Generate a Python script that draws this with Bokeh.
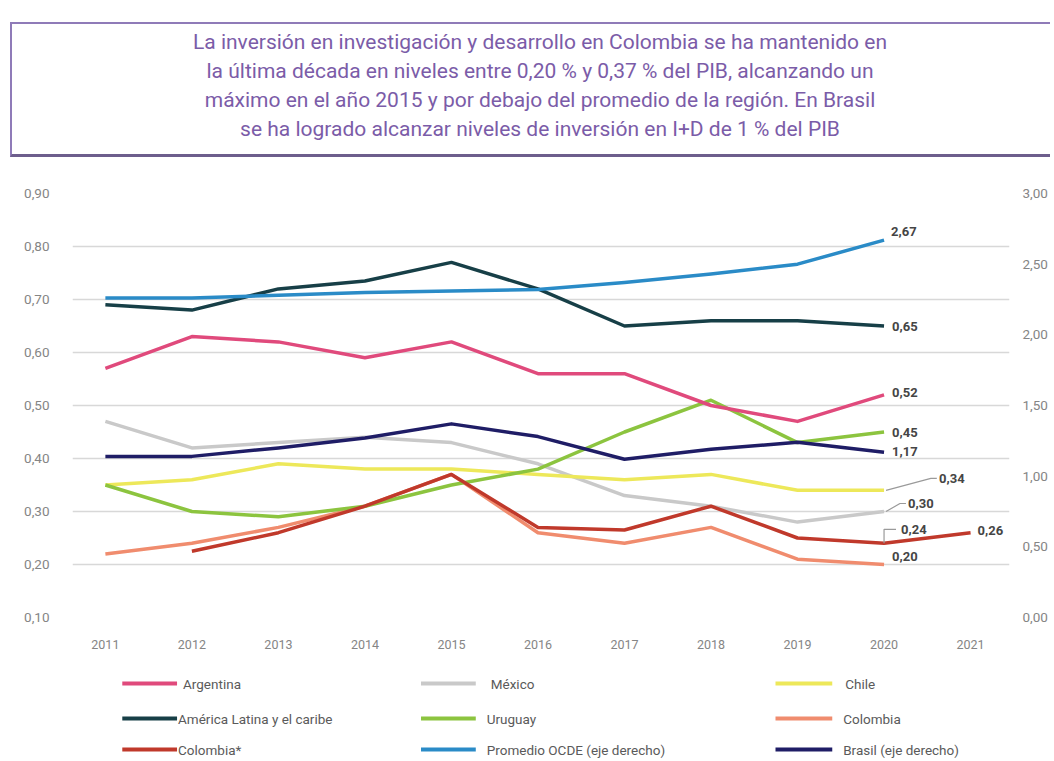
import math
from bokeh.plotting import figure
from bokeh.models import Range1d, LinearAxis, FixedTicker, CustomJSTickFormatter, Div
from bokeh.layouts import column
from bokeh.embed import file_html
from bokeh.resources import INLINE
from bokeh.core.properties import value

nan = float("nan")

# ---------------- data ----------------
years = [2011, 2012, 2013, 2014, 2015, 2016, 2017, 2018, 2019, 2020, 2021]
argentina = [0.57, 0.63, 0.62, 0.59, 0.62, 0.56, 0.56, 0.50, 0.47, 0.52, nan]
mexico = [0.47, 0.42, 0.43, 0.44, 0.43, 0.39, 0.33, 0.31, 0.28, 0.30, nan]
chile = [0.35, 0.36, 0.39, 0.38, 0.38, 0.37, 0.36, 0.37, 0.34, 0.34, nan]
america_latina = [0.69, 0.68, 0.72, 0.735, 0.77, 0.72, 0.65, 0.66, 0.66, 0.65, nan]
uruguay = [0.35, 0.30, 0.29, 0.31, 0.35, 0.38, 0.45, 0.51, 0.43, 0.45, nan]
colombia = [0.22, 0.24, 0.27, 0.31, 0.37, 0.26, 0.24, 0.27, 0.21, 0.20, nan]
colombia_star = [nan, 0.225, 0.26, 0.31, 0.37, 0.27, 0.265, 0.31, 0.25, 0.24, 0.26]
ocde = [2.26, 2.26, 2.28, 2.30, 2.31, 2.32, 2.37, 2.43, 2.50, 2.67, nan]      # eje derecho
brasil = [1.14, 1.14, 1.20, 1.27, 1.37, 1.28, 1.12, 1.19, 1.24, 1.17, nan]   # eje derecho

left_ticks = [0.10, 0.20, 0.30, 0.40, 0.50, 0.60, 0.70, 0.80, 0.90]
right_ticks = [0.0, 0.5, 1.0, 1.5, 2.0, 2.5, 3.0]

title_lines = [
    "La inversión en investigación y desarrollo en Colombia se ha mantenido en",
    "la última década en niveles entre 0,20 % y 0,37 % del PIB, alcanzando un",
    "máximo en el año 2015 y por debajo del promedio de la región. En Brasil",
    "se ha logrado alcanzar niveles de inversión en I+D de 1 % del PIB",
]

names = ["Argentina", "México", "Chile",
         "América Latina y el caribe", "Uruguay", "Colombia",
         "Colombia*", "Promedio OCDE (eje derecho)", "Brasil (eje derecho)"]
series = [argentina, mexico, chile, america_latina, uruguay, colombia, colombia_star, ocde, brasil]
colors = ["#e04a7c", "#c9c9c9", "#ede85a", "#173f47", "#8cc43f", "#f08c6e", "#c0392b", "#2a8bc7", "#1f1d66"]
right_axis = [False, False, False, False, False, False, False, True, True]

# ---------------- style ----------------
W = 1050
FONT = "Roboto"
AX_COLOR = "#858585"
LBL_COLOR = "#454545"

# ---------------- title box (HTML text) ----------------
TH = 165
title_html = (
    '<div style="margin:0; margin-left:10px; margin-top:22px; width:1040px; height:135px; '
    'box-sizing:border-box; border:2px solid #8f7bb8; border-bottom:3px solid #6d5e8c; '
    'border-right:none; display:flex; align-items:center; justify-content:center; '
    'padding-left:18px; padding-bottom:6px; text-align:center; font-family:Roboto; '
    'font-size:21px; line-height:29px; color:#7b5ca8;">'
    + "<br>".join(title_lines) + "</div>"
)
t = Div(text=title_html, width=W, height=TH, margin=0)

# ---------------- chart ----------------
PH = 490
BL, BR, BT, BB = 72, 37, 28, 38
x0, x1 = 2010.62, 2021.45
p = figure(width=W, height=PH, x_range=Range1d(x0, x1), y_range=Range1d(0.1, 0.9),
           output_backend="svg", toolbar_location=None, margin=0,
           min_border_left=BL, min_border_right=BR, min_border_top=BT, min_border_bottom=BB)
p.extra_y_ranges = {"right": Range1d(0.0, 3.0)}
p.add_layout(LinearAxis(y_range_name="right"), "right")
p.outline_line_color = None
p.xgrid.visible = False
p.ygrid.ticker = FixedTicker(ticks=left_ticks)
p.ygrid.grid_line_color = "#d8d8d8"
p.ygrid.grid_line_width = 1.5

fmt = CustomJSTickFormatter(code="return tick.toFixed(2).replace('.', ',')")
for ax in p.yaxis:
    ax.axis_line_color = None
    ax.major_tick_line_color = None
    ax.minor_tick_line_color = None
    ax.major_label_text_font = FONT
    ax.major_label_text_font_size = "13.5px"
    ax.major_label_text_color = AX_COLOR
    ax.formatter = fmt
p.yaxis[0].ticker = FixedTicker(ticks=left_ticks)
p.yaxis[0].major_label_standoff = 17
p.yaxis[1].ticker = FixedTicker(ticks=right_ticks)
p.yaxis[1].major_label_standoff = 7

xa = p.xaxis[0]
xa.ticker = FixedTicker(ticks=years)
xa.major_label_overrides = {y: str(y) for y in years}
xa.axis_line_color = None
xa.major_tick_line_color = None
xa.minor_tick_line_color = None
xa.major_label_text_font = FONT
xa.major_label_text_font_size = "12.5px"
xa.major_label_text_color = AX_COLOR
xa.major_label_standoff = 16

draw_order = [1, 2, 5, 4, 6, 0, 8, 3, 7]
for i in draw_order:
    kw = {"y_range_name": "right"} if right_axis[i] else {}
    p.line(years, series[i], line_color=colors[i], line_width=3.5, line_join="round", **kw)

# pixel -> data helpers for annotation offsets
frame_w = W - BL - BR
frame_h = PH - BT - BB
px_x = (x1 - x0) / frame_w
px_y = 0.8 / frame_h


def last(vals):
    idx = max(k for k, v in enumerate(vals) if not math.isnan(v))
    return years[idx], vals[idx]


def lab(v):
    return f"{v:.2f}".replace(".", ",")


# value labels: (series index, dx px, dy px (up +), leader?)
placements = [
    (7, 7, 9, None),
    (3, 8, 0, None),
    (0, 8, 2, None),
    (4, 8, 0, None),
    (8, 8, 1, None),
    (2, 55, 12, "diag"),
    (1, 24, 8, "diag"),
    (5, 8, 8, None),
]
for i, dx, dy, leader in placements:
    xv, yv = last(series[i])
    kw = {"y_range_name": "right"} if right_axis[i] else {}
    p.text(x=[xv], y=[yv], text=[lab(yv)], x_offset=dx, y_offset=-dy,
           text_baseline="middle", text_align="left", text_font=value(FONT),
           text_font_size="13px", text_font_style="bold", text_color=LBL_COLOR, **kw)
    if leader == "diag":
        xs = [xv + 2 * px_x, xv + (dx - 8) * px_x, xv + (dx - 2) * px_x]
        ys = [yv, yv + dy * px_y, yv + dy * px_y]
        p.line(xs, ys, line_color="#9a9a9a", line_width=1.2)

# Colombia* labels (2020 with bracket leader, 2021 at end)
yrs_c = [y for y, v in zip(years, colombia_star) if not math.isnan(v)]
vals_c = [v for v in colombia_star if not math.isnan(v)]
x20, y20 = yrs_c[-2], vals_c[-2]
p.line([x20, x20, x20 + 12 * px_x], [y20, y20 + 14 * px_y, y20 + 14 * px_y],
       line_color="#9a9a9a", line_width=1.2)
p.text(x=[x20], y=[y20], text=[lab(y20)], x_offset=17, y_offset=-14,
       text_baseline="middle", text_font=value(FONT), text_font_size="13px",
       text_font_style="bold", text_color=LBL_COLOR)
x21, y21 = yrs_c[-1], vals_c[-1]
p.text(x=[x21], y=[y21], text=[lab(y21)], x_offset=7, y_offset=-2,
       text_baseline="middle", text_font=value(FONT), text_font_size="13px",
       text_font_style="bold", text_color=LBL_COLOR)

# ---------------- legend ----------------
LH = 103
lg = figure(width=W, height=LH, x_range=Range1d(BL, W - BR), y_range=Range1d(LH, 0),
            x_axis_type=None, y_axis_type=None, output_backend="svg",
            toolbar_location=None, margin=0, min_border_left=BL, min_border_right=BR,
            min_border_top=0, min_border_bottom=0)
lg.grid.visible = False
lg.outline_line_color = None
col_line = [(122, 177), (422, 477), (778, 835)]
col_text = [[183, 178, 178], [492, 488, 488], [848, 846, 846]]
rows = [28, 63, 94]
for k, name in enumerate(names):
    r, c = divmod(k, 3)
    xa0, xa1 = col_line[c]
    lg.segment(x0=[xa0], y0=[rows[r]], x1=[xa1], y1=[rows[r]], line_color=colors[k], line_width=4)
    lg.text(x=[col_text[c][r]], y=[rows[r]], text=[name], text_baseline="middle",
            text_font=value(FONT), text_font_size="13.5px", text_color="#5a5a5a")

layout = column(t, p, lg, margin=0)
open("out.html", "w").write(file_html(layout, INLINE))
